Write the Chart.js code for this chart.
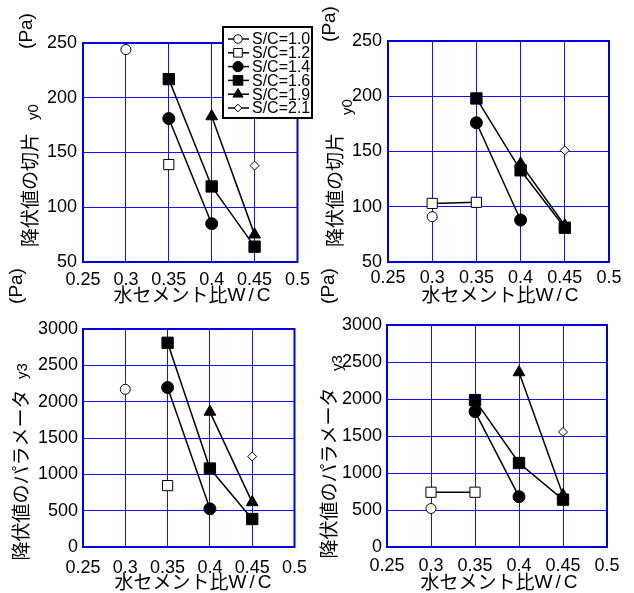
<!DOCTYPE html>
<html>
<head>
<meta charset="utf-8">
<script src="https://cdn.jsdelivr.net/npm/chart.js@4/dist/chart.umd.min.js"></script>
<style>
  body { margin: 0; background: #fff; }
  #wrap { position: relative; width: 634px; height: 593px; overflow: hidden; }
  canvas { position: absolute; }
</style>
</head>
<body>
<div id="wrap">
  <canvas id="c1" width="317" height="310" style="left:0;top:0"></canvas>
  <canvas id="c2" width="320" height="310" style="left:314px;top:0"></canvas>
  <canvas id="c3" width="317" height="331" style="left:0;top:262px"></canvas>
  <canvas id="c4" width="320" height="331" style="left:314px;top:262px"></canvas>
</div>
<script>
// ---- data -------------------------------------------------------------
const wcRatio    = [0.30, 0.35, 0.40, 0.45];
const scLabels   = ['S/C=1.0', 'S/C=1.2', 'S/C=1.4', 'S/C=1.6', 'S/C=1.9', 'S/C=2.1'];
const xTicks     = [0.25, 0.30, 0.35, 0.40, 0.45, 0.50];
const tauTicks   = [50, 100, 150, 200, 250];
const paramTicks = [0, 500, 1000, 1500, 2000, 2500, 3000];

// one row per S/C, one column per W/C (null = not measured)
const tauLeft = [
  [244, null, null, null],
  [null, 139, null, null],
  [null, 181, 85, null],
  [null, 217, 119, 64],
  [null, null, 183, 75],
  [null, null, null, 138],
];
const tauRight = [
  [91, null, null, null],
  [103, 104, null, null],
  [null, 176, 88, null],
  [null, 198, 133, 81],
  [null, null, 139, 83],
  [null, null, null, 151],
];
const paramLeft = [
  [2170, null, null, null],
  [null, 845, null, null],
  [null, 2195, 525, null],
  [null, 2810, 1080, 385],
  [null, null, 1860, 615],
  [null, null, null, 1245],
];
const paramRight = [
  [520, null, null, null],
  [740, 740, null, null],
  [null, 1830, 680, null],
  [null, 1985, 1135, 640],
  [null, null, 2360, 700],
  [null, null, null, 1555],
];

// ---- styles -----------------------------------------------------------
const markers = [
  { style: 'circle',   radius: 5,   fill: '#fff' },
  { style: 'rect',     radius: 7.2, fill: '#fff' },
  { style: 'circle',   radius: 6,   fill: '#000' },
  { style: 'rect',     radius: 8,   fill: '#000' },
  { style: 'triangle', radius: 6.8, fill: '#000' },
  { style: 'rectRot',  radius: 4.5, fill: '#fff' },
];
const GRID   = '#1010ff';
const FRAME  = '#0000dd';
const LATIN  = '"Liberation Sans", Arial, sans-serif';
const CJK    = '"Noto Sans CJK JP", sans-serif';

function drawMarker(ctx, m, x, y, scale) {
  const r = m.radius * scale;
  ctx.beginPath();
  if (m.style === 'circle') {
    ctx.arc(x, y, r, 0, Math.PI * 2);
  } else if (m.style === 'rect') {
    const s = r * Math.SQRT1_2;
    ctx.rect(x - s, y - s, 2 * s, 2 * s);
  } else if (m.style === 'triangle') {
    for (let k = 0; k < 3; k++) {
      const a = k * 2 * Math.PI / 3;
      ctx[k ? 'lineTo' : 'moveTo'](x + Math.sin(a) * r, y - Math.cos(a) * r);
    }
  } else {
    ctx.moveTo(x, y - r); ctx.lineTo(x + r, y); ctx.lineTo(x, y + r); ctx.lineTo(x - r, y);
  }
  ctx.closePath();
  ctx.fillStyle = m.fill;
  ctx.fill();
  ctx.lineWidth = 1;
  ctx.strokeStyle = '#000';
  ctx.stroke();
}

function rotText(ctx, text, x, y, font) {
  ctx.save();
  ctx.translate(x, y);
  ctx.rotate(-Math.PI / 2);
  ctx.font = font;
  ctx.textAlign = 'center';
  ctx.textBaseline = 'middle';
  ctx.fillText(text, 0, 0);
  ctx.restore();
}

// frame, axis titles and the boxed legend
const panelDecor = {
  id: 'panelDecor',
  beforeDatasetsDraw(chart) {
    const { ctx, chartArea: a } = chart;
    ctx.save();
    ctx.strokeStyle = FRAME;
    ctx.lineWidth = 2;
    ctx.strokeRect(a.left, a.top, a.right - a.left, a.bottom - a.top);
    ctx.restore();
  },
  afterDraw(chart, args, o) {
    const ctx = chart.ctx;
    const ox = o.ox, oy = o.oy;
    ctx.save();
    ctx.fillStyle = '#000';

    // y title: main text, subscript, unit
    rotText(ctx, o.yMain, o.ym[0] - ox, o.ym[1] - oy, '19px ' + CJK);
    rotText(ctx, o.ySub,  o.ys[0] - ox, o.ys[1] - oy, '15px ' + LATIN);
    rotText(ctx, '(Pa)',  o.yu[0] - ox, o.yu[1] - oy, '19px ' + LATIN);

    // x title
    ctx.textBaseline = 'middle';
    ctx.textAlign = 'left';
    ctx.font = '19px ' + CJK;
    const t1 = '水セメント比';
    const w1 = ctx.measureText(t1).width;
    ctx.font = '19px ' + LATIN;
    const t2 = ['W', '/', 'C'];
    const gap = 3;
    const w2 = t2.reduce((s, c) => s + ctx.measureText(c).width, 0) + gap * 2;
    let x = o.xt[0] - ox - (w1 + w2) / 2;
    const y = o.xt[1] - oy;
    ctx.font = '19px ' + CJK;
    ctx.fillText(t1, x, y);
    x += w1;
    ctx.font = '19px ' + LATIN;
    t2.forEach(c => { ctx.fillText(c, x, y + 1); x += ctx.measureText(c).width + gap; });

    if (o.legend) {
      const L = o.legend;
      ctx.fillStyle = '#fff';
      ctx.fillRect(L.x, L.y, L.w, L.h);
      ctx.strokeStyle = '#000';
      ctx.lineWidth = 2;
      ctx.strokeRect(L.x, L.y, L.w, L.h);
      scLabels.forEach((lab, i) => {
        const cy = L.y + 12 + i * 13.8;
        ctx.beginPath();
        ctx.moveTo(L.x + 5, cy);
        ctx.lineTo(L.x + 26, cy);
        ctx.lineWidth = 1.5;
        ctx.strokeStyle = '#000';
        ctx.stroke();
        drawMarker(ctx, markers[i], L.x + 15, cy, 0.85);
        ctx.fillStyle = '#000';
        ctx.font = '16px ' + LATIN;
        ctx.textAlign = 'left';
        ctx.textBaseline = 'middle';
        ctx.fillText(lab, L.x + 29, cy + 1);
      });
    }
    ctx.restore();
  }
};

function buildSets(rows) {
  return rows.map((row, i) => ({
    label: scLabels[i],
    data: row.map((v, j) => ({ x: wcRatio[j], y: v })),
    showLine: true,
    spanGaps: false,
    borderColor: '#000',
    borderWidth: 1.5,
    pointStyle: markers[i].style,
    pointRadius: markers[i].radius,
    pointBackgroundColor: markers[i].fill,
    pointBorderColor: '#000',
    pointBorderWidth: 1,
    clip: false,
  }));
}

function makePanel(id, rows, yTicks, p) {
  const cv = document.getElementById(id);
  const W = cv.width, H = cv.height;
  new Chart(cv, {
    type: 'scatter',
    data: { datasets: buildSets(rows) },
    options: {
      responsive: false,
      animation: false,
      events: [],
      layout: { padding: { left: 0, top: p.area.t - p.oy, right: W - (p.area.r - p.ox), bottom: 0 } },
      plugins: {
        legend: { display: false },
        tooltip: { enabled: false },
        panelDecor: {
          ox: p.ox, oy: p.oy,
          yMain: p.yMain, ySub: p.ySub,
          ym: p.ym, ys: p.ys, yu: p.yu, xt: p.xt,
          legend: p.legend || null,
        },
      },
      scales: {
        x: {
          type: 'linear',
          min: xTicks[0],
          max: xTicks[xTicks.length - 1],
          afterBuildTicks: s => { s.ticks = xTicks.map(v => ({ value: v })); },
          afterFit: s => { s.height = H - (p.area.b - p.oy); },
          grid: { color: GRID, lineWidth: 1, drawTicks: false },
          border: { display: false },
          ticks: {
            autoSkip: false, maxRotation: 0, padding: p.xPad,
            color: '#000', font: { family: LATIN, size: 18 },
            callback: v => String(+v.toFixed(2)),
          },
        },
        y: {
          min: yTicks[0],
          max: yTicks[yTicks.length - 1],
          afterBuildTicks: s => { s.ticks = yTicks.map(v => ({ value: v })); },
          afterFit: s => { s.width = p.area.l - p.ox; },
          grid: { color: GRID, lineWidth: 1, drawTicks: false },
          border: { display: false },
          ticks: {
            autoSkip: false, padding: p.yPad,
            color: '#000', font: { family: LATIN, size: 18 },
            callback: v => String(v),
          },
        },
      },
    },
    plugins: [panelDecor],
  });
}

makePanel('c1', tauLeft, tauTicks, {
  ox: 0, oy: 0, area: { l: 83, r: 303, t: 43, b: 262 }, xPad: 7, yPad: 6,
  yMain: '降伏値の切片', ySub: 'y0', ym: [30, 190], ys: [34, 112], yu: [27, 31], xt: [192, 295],
  legend: { x: 223, y: 27, w: 89, h: 91 },
});
makePanel('c2', tauRight, tauTicks, {
  ox: 314, oy: 0, area: { l: 388, r: 609, t: 41, b: 262 }, xPad: 5, yPad: 6,
  yMain: '降伏値の切片', ySub: 'y0', ym: [335, 190], ys: [348, 107], yu: [330, 24], xt: [500, 295],
});
makePanel('c3', paramLeft, paramTicks, {
  ox: 0, oy: 262, area: { l: 83, r: 303, t: 329, b: 547 }, xPad: 10, yPad: 5,
  yMain: '降伏値のパラメータ', ySub: 'y3', ym: [21, 475], ys: [23, 371], yu: [17, 286], xt: [193, 582],
});
makePanel('c4', paramRight, paramTicks, {
  ox: 314, oy: 262, area: { l: 387, r: 607, t: 325, b: 547 }, xPad: 8, yPad: 5,
  yMain: '降伏値のパラメータ', ySub: 'y3', ym: [329, 473], ys: [338, 363], yu: [329, 286], xt: [499, 582],
});
</script>
</body>
</html>
